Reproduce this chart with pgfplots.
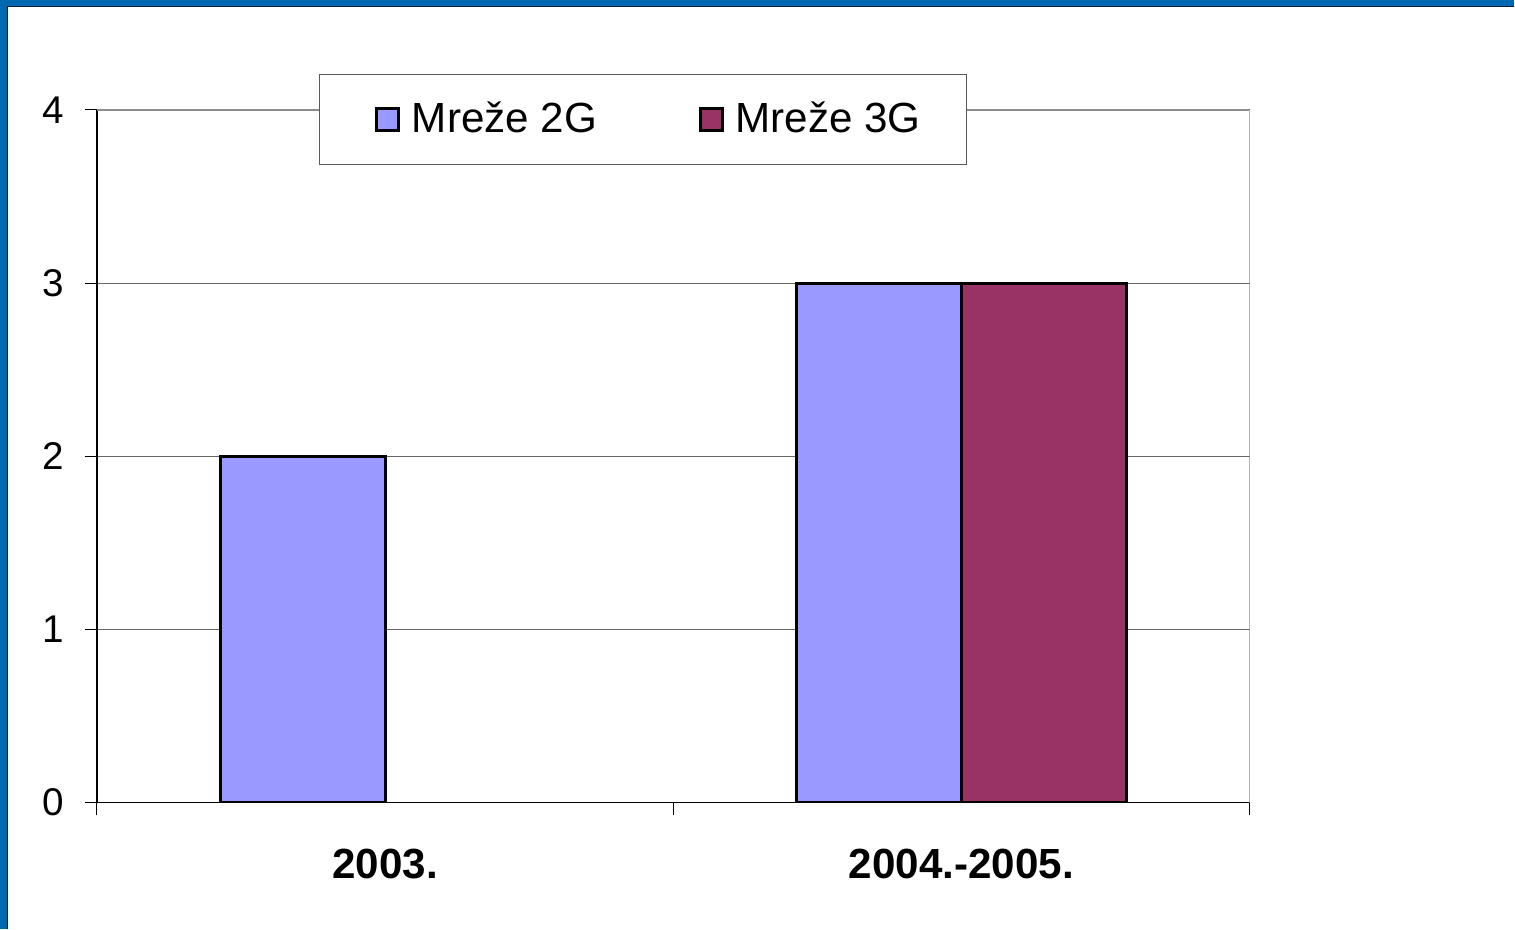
\documentclass[border=0pt]{standalone}
\usepackage{fontspec}
\setmainfont{Liberation Sans}
\usepackage{pgfplots}
\pgfplotsset{compat=1.18}
\definecolor{twoG}{HTML}{9999FF}
\definecolor{threeG}{HTML}{993366}
\definecolor{frameblue}{HTML}{0068B0}
\begin{document}
\begin{tikzpicture}[x=1cm,y=1cm]
\fill[white] (0,0) rectangle (15.15,9.29);
\fill[frameblue] (0,9.23) rectangle (15.15,9.29);
\fill[frameblue] (0,0) rectangle (0.07,9.29);
\draw[black!70!frameblue, line width=0.012cm] (0.076,0) -- (0.076,9.224) -- (15.15,9.224);
\begin{axis}[
  at={(0.97cm,1.26cm)}, anchor=south west,
  width=11.53cm, height=6.93cm, scale only axis,
  ymin=0, ymax=4, ytick={0,1,2,3,4},
  xmin=-0.5, xmax=1.5,
  xtick={-0.5,0.5,1.5}, xticklabels={},
  extra x ticks={0,1},
  extra x tick labels={2003.,2004.-2005.},
  extra x tick style={major tick length=0pt, grid=none,
    xticklabel style={font=\fontsize{12}{14}\selectfont\bfseries, yshift=-0.34cm}},
  axis lines=left,
  axis line style={-, black, line width=0.012cm},
  tick style={black, line width=0.01cm},
  major tick length=0.12cm, tick align=outside,
  ymajorgrids, grid style={black!60, line width=0.01cm},
  yticklabel style={font=\fontsize{11}{13}\selectfont, xshift=-0.09cm},
  /pgf/number format/assume math mode=true,
  ybar=0pt, bar width=1.65cm,
  legend columns=2,
  legend style={at={(0.1925,1.052)}, anchor=north west,
    draw=black!65, fill=white, line width=0.01cm,
    font=\fontsize{12}{14}\selectfont,
    inner xsep=0.385cm, inner ysep=0.2cm,
    /tikz/every odd column/.append style={column sep=0.05cm},
    /tikz/every even column/.append style={column sep=0.775cm}},
  legend image code/.code={\path (0cm,0cm);\draw[#1] (0.17cm,-0.11cm) rectangle (0.39cm,0.11cm);},
]
\draw[black!45, line width=0.02cm] (rel axis cs:0,1) -- (rel axis cs:1,1) -- (rel axis cs:1,0);
\addplot[fill=twoG, draw=black, line width=0.9pt] coordinates {(0,2) (1,3)};
\addplot[fill=threeG, draw=black, line width=0.9pt] coordinates {(1,3)};
\legend{Mreže 2G, Mreže 3G}
\end{axis}
\end{tikzpicture}
\end{document}
